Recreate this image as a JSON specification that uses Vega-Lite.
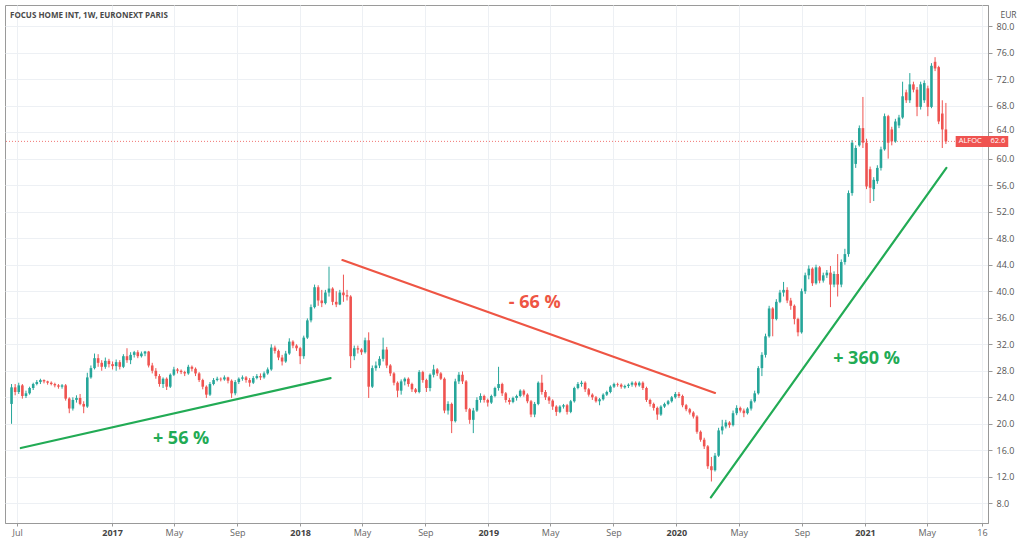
{
"$schema": "https://vega.github.io/schema/vega-lite/v6.json",
"width": 983, "height": 518,
"autosize": {"type": "none"},
"padding": {"left": 5, "top": 5, "right": 36, "bottom": 23},
"background": "white",
"config": {"view": {"stroke": "#9a9a9a", "strokeWidth": 1}},
"title": {"text": "FOCUS HOME INT, 1W, EURONEXT PARIS", "anchor": "start", "frame": "group", "orient": "top", "offset": -15, "dx": 5, "baseline": "top", "fontSize": 8, "fontWeight": "bold", "color": "#4a4a4a", "font": "Open Sans"},
"datasets": {
"candles": [
{"d":"2016-06-20","o":23,"h":26,"l":20,"c":25.5},
{"d":"2016-06-27","o":25.5,"h":26,"l":24.3,"c":24.8},
{"d":"2016-07-04","o":24.8,"h":26.2,"l":24.5,"c":25.8},
{"d":"2016-07-11","o":25.8,"h":26,"l":23.8,"c":24.2},
{"d":"2016-07-18","o":24.2,"h":25,"l":23.9,"c":24.6},
{"d":"2016-07-25","o":24.6,"h":25.6,"l":24.4,"c":25.4},
{"d":"2016-08-01","o":25.4,"h":26.2,"l":25.1,"c":26.0},
{"d":"2016-08-08","o":26.0,"h":26.6,"l":25.8,"c":26.3},
{"d":"2016-08-15","o":26.3,"h":26.8,"l":26.0,"c":26.6},
{"d":"2016-08-22","o":26.6,"h":26.7,"l":26.1,"c":26.4},
{"d":"2016-08-29","o":26.4,"h":26.5,"l":25.9,"c":26.2},
{"d":"2016-09-05","o":26.2,"h":26.4,"l":25.8,"c":26.0},
{"d":"2016-09-12","o":26.0,"h":26.2,"l":25.5,"c":25.8},
{"d":"2016-09-19","o":25.8,"h":26.0,"l":25.3,"c":25.6},
{"d":"2016-09-26","o":25.6,"h":26.0,"l":25.3,"c":25.8},
{"d":"2016-10-03","o":25.8,"h":26,"l":23.5,"c":23.8},
{"d":"2016-10-10","o":23.8,"h":24,"l":21.6,"c":22.3},
{"d":"2016-10-17","o":22.3,"h":24,"l":22,"c":23.6},
{"d":"2016-10-24","o":23.6,"h":24.3,"l":23.2,"c":23.9},
{"d":"2016-10-31","o":23.9,"h":24.5,"l":22.8,"c":23.0},
{"d":"2016-11-07","o":23.0,"h":23.4,"l":21.6,"c":22.6},
{"d":"2016-11-14","o":22.6,"h":27.7,"l":22.4,"c":27.0},
{"d":"2016-11-21","o":27.0,"h":28.8,"l":26.8,"c":28.4},
{"d":"2016-11-28","o":28.4,"h":30.6,"l":28.2,"c":29.9},
{"d":"2016-12-05","o":29.9,"h":30.5,"l":28.6,"c":29.2},
{"d":"2016-12-12","o":29.2,"h":29.6,"l":28.0,"c":28.6},
{"d":"2016-12-19","o":28.6,"h":30.0,"l":28.3,"c":29.5},
{"d":"2016-12-26","o":29.5,"h":29.8,"l":28.5,"c":29.0},
{"d":"2017-01-02","o":29.0,"h":29.4,"l":28.2,"c":28.7},
{"d":"2017-01-09","o":28.7,"h":29.7,"l":28.0,"c":29.3},
{"d":"2017-01-16","o":29.3,"h":29.6,"l":28.2,"c":28.6},
{"d":"2017-01-23","o":28.6,"h":30.5,"l":28.4,"c":30.2},
{"d":"2017-01-30","o":30.2,"h":31.4,"l":29.2,"c":29.6},
{"d":"2017-02-06","o":29.6,"h":30.8,"l":29.0,"c":30.4},
{"d":"2017-02-13","o":30.4,"h":31.0,"l":30.0,"c":30.8},
{"d":"2017-02-20","o":30.8,"h":31.1,"l":29.9,"c":30.2},
{"d":"2017-02-27","o":30.2,"h":30.9,"l":30.0,"c":30.6},
{"d":"2017-03-06","o":30.6,"h":31.0,"l":30.2,"c":30.9},
{"d":"2017-03-13","o":30.9,"h":31,"l":28.5,"c":28.8},
{"d":"2017-03-20","o":28.8,"h":29.2,"l":27.6,"c":28.0},
{"d":"2017-03-27","o":28.0,"h":28.4,"l":26.8,"c":27.2},
{"d":"2017-04-03","o":27.2,"h":27.5,"l":25.6,"c":26.0},
{"d":"2017-04-10","o":26.0,"h":27.0,"l":25.4,"c":26.8},
{"d":"2017-04-17","o":26.8,"h":27.0,"l":25.1,"c":25.6},
{"d":"2017-04-24","o":25.6,"h":27.6,"l":25.4,"c":27.4},
{"d":"2017-05-01","o":27.4,"h":28.6,"l":27.2,"c":28.2},
{"d":"2017-05-08","o":28.2,"h":28.4,"l":27.6,"c":28.0},
{"d":"2017-05-15","o":28.0,"h":28.2,"l":27.5,"c":27.8},
{"d":"2017-05-22","o":27.8,"h":28.0,"l":27.2,"c":27.6},
{"d":"2017-05-29","o":27.6,"h":28.9,"l":27.4,"c":28.6},
{"d":"2017-06-05","o":28.6,"h":28.8,"l":27.9,"c":28.3},
{"d":"2017-06-12","o":28.3,"h":28.5,"l":27.2,"c":27.6},
{"d":"2017-06-19","o":27.6,"h":27.8,"l":26.3,"c":26.6},
{"d":"2017-06-26","o":26.6,"h":26.8,"l":25.2,"c":25.6},
{"d":"2017-07-03","o":25.6,"h":25.8,"l":23.9,"c":24.4},
{"d":"2017-07-10","o":24.4,"h":26.3,"l":24.2,"c":26.0},
{"d":"2017-07-17","o":26.0,"h":26.9,"l":25.8,"c":26.6},
{"d":"2017-07-24","o":26.6,"h":27.1,"l":26.4,"c":26.8},
{"d":"2017-07-31","o":26.8,"h":27.0,"l":26.4,"c":26.7},
{"d":"2017-08-07","o":26.7,"h":27.3,"l":26.5,"c":27.0},
{"d":"2017-08-14","o":27.0,"h":27.1,"l":26.1,"c":26.5},
{"d":"2017-08-21","o":26.5,"h":26.7,"l":23.9,"c":24.6},
{"d":"2017-08-28","o":24.6,"h":26.6,"l":24.3,"c":26.3},
{"d":"2017-09-04","o":26.3,"h":27.0,"l":26.0,"c":26.8},
{"d":"2017-09-11","o":26.8,"h":27.3,"l":26.5,"c":27.0},
{"d":"2017-09-18","o":27.0,"h":27.2,"l":26.2,"c":26.6},
{"d":"2017-09-25","o":26.6,"h":26.9,"l":25.6,"c":26.2},
{"d":"2017-10-02","o":26.2,"h":27.2,"l":26.0,"c":26.9},
{"d":"2017-10-09","o":26.9,"h":27.5,"l":26.7,"c":27.2},
{"d":"2017-10-16","o":27.2,"h":27.6,"l":26.6,"c":27.0},
{"d":"2017-10-23","o":27.0,"h":27.9,"l":26.8,"c":27.6},
{"d":"2017-10-30","o":27.6,"h":28.5,"l":27.4,"c":28.2},
{"d":"2017-11-06","o":28.2,"h":32.0,"l":28.0,"c":31.5},
{"d":"2017-11-13","o":31.5,"h":31.8,"l":30.6,"c":31.0},
{"d":"2017-11-20","o":31.0,"h":31.2,"l":29.6,"c":30.0},
{"d":"2017-11-27","o":30.0,"h":30.4,"l":28.8,"c":29.4},
{"d":"2017-12-04","o":29.4,"h":31.0,"l":29.2,"c":30.6},
{"d":"2017-12-11","o":30.6,"h":32.9,"l":30.4,"c":32.4},
{"d":"2017-12-18","o":32.4,"h":32.6,"l":31.4,"c":31.8},
{"d":"2017-12-25","o":31.8,"h":32.0,"l":31.0,"c":31.4},
{"d":"2018-01-01","o":31.4,"h":31.6,"l":29.0,"c":30.2},
{"d":"2018-01-08","o":30.2,"h":33.3,"l":29.8,"c":33.0},
{"d":"2018-01-15","o":33.0,"h":35.9,"l":32.8,"c":35.6},
{"d":"2018-01-22","o":35.6,"h":38.0,"l":35.3,"c":37.6},
{"d":"2018-01-29","o":37.6,"h":41.0,"l":37.4,"c":40.6},
{"d":"2018-02-05","o":40.6,"h":40.9,"l":37.8,"c":38.6},
{"d":"2018-02-12","o":38.6,"h":40.2,"l":37.6,"c":38.2},
{"d":"2018-02-19","o":38.2,"h":40.2,"l":38.0,"c":39.8},
{"d":"2018-02-26","o":39.8,"h":43.7,"l":39.2,"c":40.4},
{"d":"2018-03-05","o":40.4,"h":40.6,"l":37.9,"c":38.4},
{"d":"2018-03-12","o":38.4,"h":40.0,"l":37.6,"c":38.0},
{"d":"2018-03-19","o":38.0,"h":40.2,"l":37.9,"c":39.8},
{"d":"2018-03-26","o":39.8,"h":42.5,"l":38.4,"c":39.4},
{"d":"2018-04-02","o":39.4,"h":40.2,"l":38.6,"c":39.2},
{"d":"2018-04-09","o":39.2,"h":39.4,"l":28.4,"c":30.2},
{"d":"2018-04-16","o":30.2,"h":31.8,"l":29.6,"c":31.4},
{"d":"2018-04-23","o":31.4,"h":31.8,"l":30.6,"c":31.2},
{"d":"2018-04-30","o":31.2,"h":31.4,"l":30.4,"c":30.8},
{"d":"2018-05-07","o":30.8,"h":33.0,"l":30.6,"c":32.6},
{"d":"2018-05-14","o":32.6,"h":33.8,"l":23.9,"c":25.6},
{"d":"2018-05-21","o":25.6,"h":28.8,"l":25.4,"c":28.4},
{"d":"2018-05-28","o":28.4,"h":29.4,"l":28.0,"c":28.8},
{"d":"2018-06-04","o":28.8,"h":30.2,"l":28.4,"c":29.8},
{"d":"2018-06-11","o":29.8,"h":33.0,"l":29.4,"c":31.2},
{"d":"2018-06-18","o":31.2,"h":31.6,"l":28.4,"c":28.8},
{"d":"2018-06-25","o":28.8,"h":29.0,"l":27.2,"c":27.6},
{"d":"2018-07-02","o":27.6,"h":27.8,"l":25.8,"c":26.2},
{"d":"2018-07-09","o":26.2,"h":26.4,"l":24.0,"c":25.0},
{"d":"2018-07-16","o":25.0,"h":26.7,"l":24.4,"c":26.4},
{"d":"2018-07-23","o":26.4,"h":27.0,"l":25.8,"c":26.8},
{"d":"2018-07-30","o":26.8,"h":27.0,"l":25.6,"c":26.0},
{"d":"2018-08-06","o":26.0,"h":26.2,"l":24.8,"c":25.2},
{"d":"2018-08-13","o":25.2,"h":25.4,"l":24.6,"c":24.8},
{"d":"2018-08-20","o":24.8,"h":28.1,"l":24.6,"c":27.8},
{"d":"2018-08-27","o":27.8,"h":28.0,"l":26.2,"c":26.6},
{"d":"2018-09-03","o":26.6,"h":26.8,"l":24.8,"c":25.4},
{"d":"2018-09-10","o":25.4,"h":27.6,"l":24.9,"c":27.4},
{"d":"2018-09-17","o":27.4,"h":28.9,"l":27.0,"c":28.2},
{"d":"2018-09-24","o":28.2,"h":28.4,"l":27.2,"c":27.6},
{"d":"2018-10-01","o":27.6,"h":27.8,"l":26.6,"c":26.8},
{"d":"2018-10-08","o":26.8,"h":27.0,"l":21.6,"c":22.0},
{"d":"2018-10-15","o":22.0,"h":23.4,"l":21.4,"c":23.0},
{"d":"2018-10-22","o":23.0,"h":23.2,"l":18.6,"c":20.4},
{"d":"2018-10-29","o":20.4,"h":26.8,"l":20.2,"c":26.4},
{"d":"2018-11-05","o":26.4,"h":27.8,"l":26.0,"c":27.4},
{"d":"2018-11-12","o":27.4,"h":27.9,"l":26.0,"c":26.4},
{"d":"2018-11-19","o":26.4,"h":26.6,"l":21.8,"c":22.2},
{"d":"2018-11-26","o":22.2,"h":22.4,"l":20.0,"c":20.6},
{"d":"2018-12-03","o":20.6,"h":22.4,"l":18.6,"c":22.0},
{"d":"2018-12-10","o":22.0,"h":24.0,"l":21.8,"c":23.6},
{"d":"2018-12-17","o":23.6,"h":24.6,"l":23.2,"c":24.2},
{"d":"2018-12-24","o":24.2,"h":24.4,"l":23.2,"c":23.6},
{"d":"2018-12-31","o":23.6,"h":23.8,"l":22.6,"c":23.2},
{"d":"2019-01-07","o":23.2,"h":24.4,"l":23.0,"c":24.2},
{"d":"2019-01-14","o":24.2,"h":25.6,"l":24.0,"c":25.4},
{"d":"2019-01-21","o":25.4,"h":28.6,"l":25.0,"c":26.0},
{"d":"2019-01-28","o":26.0,"h":26.2,"l":24.2,"c":24.6},
{"d":"2019-02-04","o":24.6,"h":24.8,"l":23.2,"c":23.6},
{"d":"2019-02-11","o":23.6,"h":23.9,"l":22.9,"c":23.3},
{"d":"2019-02-18","o":23.3,"h":24.1,"l":23.1,"c":23.9},
{"d":"2019-02-25","o":23.9,"h":24.4,"l":23.5,"c":24.2},
{"d":"2019-03-04","o":24.2,"h":25.2,"l":24.0,"c":25.0},
{"d":"2019-03-11","o":25.0,"h":25.2,"l":24.1,"c":24.4},
{"d":"2019-03-18","o":24.4,"h":24.6,"l":23.1,"c":23.4},
{"d":"2019-03-25","o":23.4,"h":23.6,"l":21.0,"c":21.4},
{"d":"2019-04-01","o":21.4,"h":23.3,"l":21.0,"c":23.0},
{"d":"2019-04-08","o":23.0,"h":26.4,"l":22.8,"c":26.2},
{"d":"2019-04-15","o":26.2,"h":27.4,"l":24.4,"c":24.8},
{"d":"2019-04-22","o":24.8,"h":25.1,"l":23.6,"c":24.0},
{"d":"2019-04-29","o":24.0,"h":24.2,"l":23.0,"c":23.5},
{"d":"2019-05-06","o":23.5,"h":23.7,"l":22.1,"c":22.6},
{"d":"2019-05-13","o":22.6,"h":22.8,"l":21.2,"c":21.8},
{"d":"2019-05-20","o":21.8,"h":22.8,"l":21.6,"c":22.6},
{"d":"2019-05-27","o":22.6,"h":23.0,"l":22.3,"c":22.8},
{"d":"2019-06-03","o":22.8,"h":23.0,"l":21.4,"c":21.8},
{"d":"2019-06-10","o":21.8,"h":23.6,"l":21.6,"c":23.4},
{"d":"2019-06-17","o":23.4,"h":25.6,"l":23.2,"c":25.4},
{"d":"2019-06-24","o":25.4,"h":26.3,"l":25.2,"c":26.0},
{"d":"2019-07-01","o":26.0,"h":26.5,"l":25.6,"c":26.2},
{"d":"2019-07-08","o":26.2,"h":26.4,"l":24.8,"c":25.2},
{"d":"2019-07-15","o":25.2,"h":25.4,"l":24.1,"c":24.4},
{"d":"2019-07-22","o":24.4,"h":24.6,"l":23.6,"c":24.0},
{"d":"2019-07-29","o":24.0,"h":24.2,"l":23.2,"c":23.4},
{"d":"2019-08-05","o":23.4,"h":23.9,"l":22.8,"c":23.7},
{"d":"2019-08-12","o":23.7,"h":24.6,"l":23.5,"c":24.4},
{"d":"2019-08-19","o":24.4,"h":25.0,"l":24.2,"c":24.8},
{"d":"2019-08-26","o":24.8,"h":25.8,"l":24.6,"c":25.6},
{"d":"2019-09-02","o":25.6,"h":26.2,"l":25.4,"c":26.0},
{"d":"2019-09-09","o":26.0,"h":26.2,"l":25.6,"c":25.9},
{"d":"2019-09-16","o":25.9,"h":26.1,"l":25.3,"c":25.6},
{"d":"2019-09-23","o":25.5,"h":25.9,"l":25.3,"c":25.7},
{"d":"2019-09-30","o":25.7,"h":26.1,"l":25.4,"c":25.9},
{"d":"2019-10-07","o":25.9,"h":26.4,"l":25.6,"c":26.2},
{"d":"2019-10-14","o":26.2,"h":26.4,"l":25.5,"c":25.8},
{"d":"2019-10-21","o":25.8,"h":26.4,"l":25.6,"c":26.2},
{"d":"2019-10-28","o":26.2,"h":26.4,"l":25.1,"c":25.4},
{"d":"2019-11-04","o":25.4,"h":25.6,"l":23.3,"c":23.6},
{"d":"2019-11-11","o":23.6,"h":23.8,"l":22.6,"c":23.0},
{"d":"2019-11-18","o":23.0,"h":23.2,"l":22.0,"c":22.4},
{"d":"2019-11-25","o":22.4,"h":22.6,"l":20.6,"c":21.4},
{"d":"2019-12-02","o":21.4,"h":22.8,"l":21.2,"c":22.6},
{"d":"2019-12-09","o":22.6,"h":23.2,"l":22.4,"c":23.0},
{"d":"2019-12-16","o":23.0,"h":23.6,"l":22.8,"c":23.4},
{"d":"2019-12-23","o":23.4,"h":24.2,"l":23.2,"c":24.0},
{"d":"2019-12-30","o":24.0,"h":24.8,"l":23.8,"c":24.5},
{"d":"2020-01-06","o":24.5,"h":24.8,"l":23.9,"c":24.2},
{"d":"2020-01-13","o":24.2,"h":24.4,"l":22.5,"c":22.8},
{"d":"2020-01-20","o":22.8,"h":23.0,"l":21.9,"c":22.2},
{"d":"2020-01-27","o":22.2,"h":22.4,"l":21.4,"c":21.7},
{"d":"2020-02-03","o":21.7,"h":21.9,"l":20.8,"c":21.1},
{"d":"2020-02-10","o":21.1,"h":21.3,"l":18.5,"c":18.8},
{"d":"2020-02-17","o":18.8,"h":19.0,"l":17.3,"c":17.6},
{"d":"2020-02-24","o":17.6,"h":17.9,"l":16.2,"c":16.6},
{"d":"2020-03-02","o":16.6,"h":16.8,"l":13.2,"c":13.6},
{"d":"2020-03-09","o":13.6,"h":15.0,"l":11.3,"c":13.0},
{"d":"2020-03-16","o":13.0,"h":15.6,"l":12.8,"c":15.2},
{"d":"2020-03-23","o":15.2,"h":19.4,"l":15.0,"c":19.0},
{"d":"2020-03-30","o":19.0,"h":20.6,"l":18.4,"c":19.6},
{"d":"2020-04-06","o":19.6,"h":20.6,"l":19.3,"c":20.2},
{"d":"2020-04-13","o":20.2,"h":20.4,"l":19.4,"c":19.8},
{"d":"2020-04-20","o":19.8,"h":22.0,"l":19.6,"c":21.6},
{"d":"2020-04-27","o":21.6,"h":22.8,"l":21.3,"c":22.4},
{"d":"2020-05-04","o":22.4,"h":22.6,"l":21.7,"c":22.0},
{"d":"2020-05-11","o":22.0,"h":22.3,"l":21.0,"c":21.6},
{"d":"2020-05-18","o":21.6,"h":22.5,"l":21.4,"c":22.3},
{"d":"2020-05-25","o":22.3,"h":23.7,"l":22.0,"c":23.4},
{"d":"2020-06-01","o":23.4,"h":25.0,"l":23.2,"c":24.6},
{"d":"2020-06-08","o":24.6,"h":28.7,"l":24.4,"c":28.4},
{"d":"2020-06-15","o":28.4,"h":30.8,"l":27.2,"c":30.4},
{"d":"2020-06-22","o":30.4,"h":33.6,"l":30.0,"c":33.2},
{"d":"2020-06-29","o":33.2,"h":37.8,"l":33.0,"c":37.4},
{"d":"2020-07-06","o":37.4,"h":37.6,"l":33.2,"c":35.8},
{"d":"2020-07-13","o":35.8,"h":38.8,"l":35.6,"c":38.4},
{"d":"2020-07-20","o":38.4,"h":40.2,"l":38.2,"c":39.8},
{"d":"2020-07-27","o":39.8,"h":41.4,"l":39.2,"c":40.2},
{"d":"2020-08-03","o":40.2,"h":40.6,"l":38.2,"c":38.6},
{"d":"2020-08-10","o":38.6,"h":39.0,"l":37.2,"c":37.8},
{"d":"2020-08-17","o":37.8,"h":38.0,"l":35.0,"c":35.8},
{"d":"2020-08-24","o":35.8,"h":36.0,"l":33.2,"c":33.8},
{"d":"2020-08-31","o":33.8,"h":40.4,"l":33.6,"c":40.0},
{"d":"2020-09-07","o":40.0,"h":42.8,"l":39.6,"c":42.4},
{"d":"2020-09-14","o":42.4,"h":43.9,"l":41.8,"c":43.4},
{"d":"2020-09-21","o":43.4,"h":43.6,"l":40.8,"c":41.2},
{"d":"2020-09-28","o":41.2,"h":44.0,"l":41.0,"c":43.6},
{"d":"2020-10-05","o":43.6,"h":43.8,"l":41.2,"c":41.6},
{"d":"2020-10-12","o":41.6,"h":42.8,"l":41.3,"c":42.4},
{"d":"2020-10-19","o":42.4,"h":43.2,"l":42.0,"c":42.8},
{"d":"2020-10-26","o":42.8,"h":43.8,"l":37.6,"c":41.0},
{"d":"2020-11-02","o":41.0,"h":43.0,"l":40.6,"c":42.6},
{"d":"2020-11-09","o":42.6,"h":45.6,"l":39.2,"c":41.0},
{"d":"2020-11-16","o":41.0,"h":44.8,"l":40.6,"c":44.4},
{"d":"2020-11-23","o":44.4,"h":46.4,"l":44.0,"c":45.6},
{"d":"2020-11-30","o":45.6,"h":55.2,"l":45.2,"c":54.8},
{"d":"2020-12-07","o":54.8,"h":62.8,"l":54.4,"c":62.4},
{"d":"2020-12-14","o":59.2,"h":62.0,"l":58.6,"c":61.6},
{"d":"2020-12-21","o":62.0,"h":65.0,"l":61.8,"c":64.6},
{"d":"2020-12-28","o":64.6,"h":69.3,"l":61.6,"c":62.4},
{"d":"2021-01-04","o":62.4,"h":63.0,"l":55.4,"c":55.8},
{"d":"2021-01-11","o":58.4,"h":58.8,"l":53.3,"c":55.6},
{"d":"2021-01-18","o":55.4,"h":57.2,"l":53.6,"c":56.8},
{"d":"2021-01-25","o":56.6,"h":59.0,"l":56.2,"c":58.6},
{"d":"2021-02-01","o":58.6,"h":61.8,"l":58.2,"c":61.4},
{"d":"2021-02-08","o":61.4,"h":66.8,"l":61.2,"c":66.4},
{"d":"2021-02-15","o":66.4,"h":66.6,"l":60.0,"c":62.4},
{"d":"2021-02-22","o":64.4,"h":64.8,"l":62.0,"c":62.6},
{"d":"2021-03-01","o":62.6,"h":66.0,"l":62.4,"c":65.6},
{"d":"2021-03-08","o":65.0,"h":66.6,"l":64.6,"c":66.2},
{"d":"2021-03-15","o":66.2,"h":71.6,"l":66.0,"c":69.4},
{"d":"2021-03-22","o":70.0,"h":70.4,"l":68.4,"c":68.8},
{"d":"2021-03-29","o":68.8,"h":72.9,"l":68.4,"c":71.2},
{"d":"2021-04-05","o":71.2,"h":71.6,"l":70.0,"c":70.4},
{"d":"2021-04-12","o":70.4,"h":70.8,"l":66.4,"c":67.8},
{"d":"2021-04-19","o":67.8,"h":71.6,"l":67.4,"c":71.2},
{"d":"2021-04-26","o":68.8,"h":71.8,"l":68.4,"c":71.4},
{"d":"2021-05-03","o":70.6,"h":71.0,"l":66.4,"c":67.8},
{"d":"2021-05-10","o":67.8,"h":74.4,"l":67.6,"c":74.0},
{"d":"2021-05-17","o":74.6,"h":75.3,"l":73.2,"c":73.6},
{"d":"2021-05-24","o":73.8,"h":74.0,"l":65.2,"c":65.6},
{"d":"2021-05-31","o":66.8,"h":68.8,"l":61.6,"c":64.4},
{"d":"2021-06-07","o":64.4,"h":68.4,"l":62.2,"c":62.6}
],
"trends": [
{"d1":"2016-07-08","v1":16.35,"d2":"2018-03-01","v2":26.9,"k":"g"},
{"d1":"2018-03-24","v1":44.7,"d2":"2020-03-16","v2":24.65,"k":"r"},
{"d1":"2020-03-08","v1":8.9,"d2":"2021-06-08","v2":58.6,"k":"g"}
],
"notes": [
{"d":"2017-05-15","v":17.7,"t":"+ 56 %","k":"g"},
{"d":"2019-04-01","v":38.2,"t":"- 66 %","k":"r"},
{"d":"2021-01-04","v":29.8,"t":"+ 360 %","k":"g"}
],
"last": [
{"d1":"2021-06-26","d2":"2021-10-06","p":62.6,"n":"ALFOC"}
]
},
"layer": [
{"data": {"name": "candles"},
 "mark": {"type": "rule", "strokeWidth": 1},
 "encoding": {
  "x": {"field": "d", "type": "temporal",
   "scale": {"type": "utc", "domain": [{"year": 2016, "month": 6, "date": 17, "utc": true}, {"year": 2021, "month": 8, "date": 18, "utc": true}]},
   "axis": {"title": null,
    "values": [{"year":2016,"month":7,"date":1,"utc":true},{"year":2017,"month":1,"date":1,"utc":true},{"year":2017,"month":5,"date":1,"utc":true},{"year":2017,"month":9,"date":1,"utc":true},{"year":2018,"month":1,"date":1,"utc":true},{"year":2018,"month":5,"date":1,"utc":true},{"year":2018,"month":9,"date":1,"utc":true},{"year":2019,"month":1,"date":1,"utc":true},{"year":2019,"month":5,"date":1,"utc":true},{"year":2019,"month":9,"date":1,"utc":true},{"year":2020,"month":1,"date":1,"utc":true},{"year":2020,"month":5,"date":1,"utc":true},{"year":2020,"month":9,"date":1,"utc":true},{"year":2021,"month":1,"date":1,"utc":true},{"year":2021,"month":5,"date":1,"utc":true},{"year":2021,"month":8,"date":16,"utc":true}],
    "labelExpr": "utcdate(datum.value) == 16 ? '16' : (utcmonth(datum.value) == 0 ? utcFormat(datum.value, '%Y') : utcFormat(datum.value, '%b'))",
    "labelFontWeight": {"condition": {"test": "utcmonth(datum.value) == 0", "value": "bold"}, "value": "normal"},
    "labelColor": {"condition": {"test": "utcmonth(datum.value) == 0", "value": "#444444"}, "value": "#666666"},
    "labelFontSize": 9, "labelFont": "Open Sans", "tickSize": 3, "tickColor": "#999999", "domainColor": "#999999", "labelPadding": 2,
    "grid": true, "gridColor": "#edf0f4", "labelFlush": false, "labelOverlap": false, "labelBound": false}},
  "y": {"field": "l", "type": "quantitative",
   "scale": {"domain": [5.04, 83.17], "nice": false, "zero": false},
   "axis": {"orient": "right", "title": "EUR", "titleAngle": 0, "titleX": 20, "titleY": 9, "titleAlign": "center", "titleBaseline": "middle", "titleFontSize": 8.5, "titleFontWeight": "normal", "titleColor": "#555555", "titleFont": "Open Sans",
    "values": [8,12,16,20,24,28,32,36,40,44,48,52,56,60,64,68,72,76,80], "tickCount": 19, "format": ".1f",
    "labelOffset": {"condition": {"test": "datum.value == 64", "value": -3}, "value": 0},
    "labelColor": "#555555", "labelFontSize": 9, "labelFont": "Open Sans", "tickSize": 4, "tickColor": "#999999", "domainColor": "#999999", "labelPadding": 4,
    "grid": true, "gridColor": "#edf0f4", "labelFlush": false, "labelOverlap": false, "labelBound": false}},
  "y2": {"field": "h"},
  "color": {"condition": {"test": "datum.c >= datum.o", "value": "#26a69a"}, "value": "#ef5350"}
 }},
{"data": {"name": "last"},
 "mark": {"type": "rule", "strokeDash": [1, 2], "strokeWidth": 1, "color": "#ef5350", "opacity": 0.8},
 "encoding": {
  "y": {"field": "p", "type": "quantitative"}
 }},
{"data": {"name": "candles"},
 "mark": {"type": "bar", "width": 2.6},
 "encoding": {
  "x": {"field": "d", "type": "temporal"},
  "y": {"field": "o", "type": "quantitative"},
  "y2": {"field": "c"},
  "color": {"condition": {"test": "datum.c >= datum.o", "value": "#26a69a"}, "value": "#ef5350"}
 }},
{"data": {"name": "trends"},
 "mark": {"type": "rule", "strokeWidth": 2.2, "strokeCap": "round"},
 "encoding": {
  "x": {"field": "d1", "type": "temporal"},
  "x2": {"field": "d2"},
  "y": {"field": "v1", "type": "quantitative"},
  "y2": {"field": "v2"},
  "color": {"field": "k", "type": "nominal", "scale": {"domain": ["g", "r"], "range": ["#22ab55", "#ee5544"]}, "legend": null}
 }},
{"data": {"name": "notes"},
 "mark": {"type": "text", "fontSize": 18, "fontWeight": "bold", "font": "Open Sans", "align": "center", "baseline": "middle"},
 "encoding": {
  "x": {"field": "d", "type": "temporal"},
  "y": {"field": "v", "type": "quantitative"},
  "text": {"field": "t"},
  "color": {"field": "k", "type": "nominal", "legend": null}
 }},
{"data": {"name": "last"},
 "mark": {"type": "rule", "strokeWidth": 11, "color": "#ef5350"},
 "encoding": {
  "x": {"field": "d1", "type": "temporal"},
  "x2": {"field": "d2"},
  "y": {"field": "p", "type": "quantitative"}
 }},
{"data": {"name": "last"},
 "mark": {"type": "text", "align": "left", "dx": 3, "baseline": "middle", "fontSize": 7.5, "font": "Open Sans", "color": "white"},
 "encoding": {
  "x": {"field": "d1", "type": "temporal"},
  "y": {"field": "p", "type": "quantitative"},
  "text": {"field": "n"}
 }},
{"data": {"name": "last"},
 "mark": {"type": "text", "align": "right", "dx": -3, "baseline": "middle", "fontSize": 7.5, "font": "Open Sans", "color": "white"},
 "encoding": {
  "x": {"field": "d2", "type": "temporal"},
  "y": {"field": "p", "type": "quantitative"},
  "text": {"field": "p", "format": ".1f"}
 }}
]
}
